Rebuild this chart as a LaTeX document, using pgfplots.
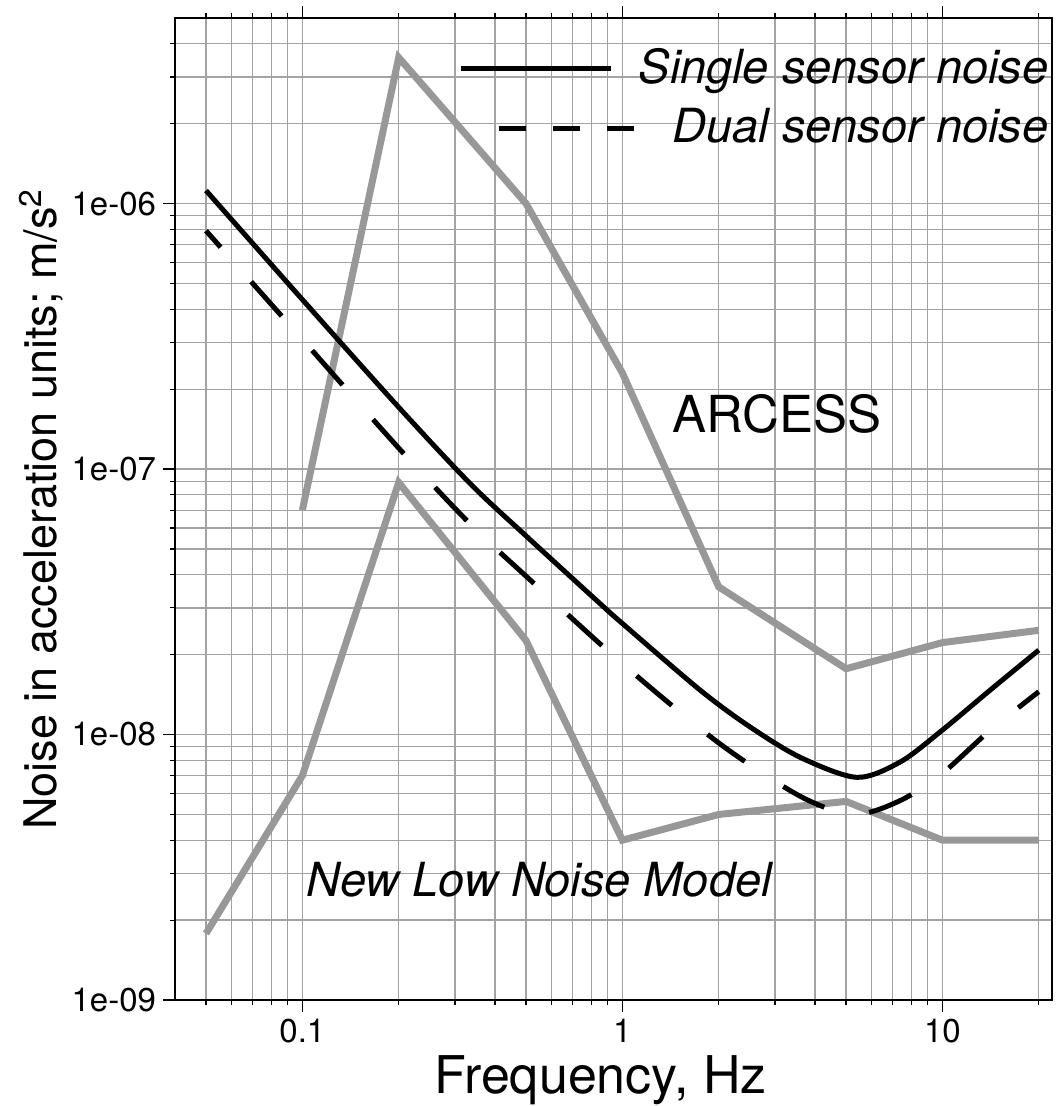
\documentclass[border=0pt]{standalone}
\usepackage{fontspec}
\setmainfont{TeX Gyre Heros}
\usepackage{pgfplots}
\usepackage{pgfplotstable}
\pgfplotsset{compat=1.18}

\definecolor{refgray}{RGB}{152,152,152}

% ARCESS station noise
\pgfplotstableread{
f     a
0.1   7.0e-8
0.2   3.55e-6
0.5   1.0e-6
1     2.3e-7
2     3.6e-8
5     1.77e-8
10    2.22e-8
20    2.47e-8
}\arcess

% Peterson New Low Noise Model
\pgfplotstableread{
f     a
0.05  1.78e-9
0.1   7.0e-9
0.2   8.9e-8
0.5   2.26e-8
1     4.0e-9
2     5.0e-9
5     5.6e-9
10    4.0e-9
20    4.0e-9
}\nlnm

\pgfplotstableread{
f      a
0.05   1.12e-6
0.1    4.35e-7
0.2    1.71e-7
0.335  8.8e-8
0.5    5.6e-8
0.85   3.12e-8
1      2.62e-8
1.75   1.47e-8
2.5    1.07e-8
3.6    8.2e-9
5.4    6.9e-9
7.4    7.9e-9
10     1.04e-8
14     1.46e-8
20     2.08e-8
}\single

\pgfplotstableread{
f      a
0.05   7.9e-7
0.1    3.08e-7
0.2    1.2e-7
0.335  6.2e-8
0.5    3.95e-8
1      1.85e-8
2      9.3e-9
3.6    5.85e-9
5.3    5.0e-9
7.4    5.65e-9
10     7.15e-9
14     1.03e-8
20     1.45e-8
}\dual

\begin{document}
\begin{tikzpicture}
\begin{axis}[
    name=ax,
    xmode=log, ymode=log,
    scale only axis, width=438.5pt, height=491pt,
    xmin=0.04, xmax=22, ymin=1e-9, ymax=5e-6,
    xtick={0.1,1,10}, xticklabels={0.1,1,10},
    ytick={1e-9,1e-8,1e-7,1e-6},
    yticklabels={1e-09,1e-08,1e-07,1e-06},
    minor xtick={0.05,0.06,0.07,0.08,0.09,0.2,0.3,0.4,0.5,0.6,0.7,0.8,0.9,2,3,4,5,6,7,8,9,20},
    minor ytick={2e-9,3e-9,4e-9,5e-9,6e-9,7e-9,8e-9,9e-9,
                 2e-8,3e-8,4e-8,5e-8,6e-8,7e-8,8e-8,9e-8,
                 2e-7,3e-7,4e-7,5e-7,6e-7,7e-7,8e-7,9e-7,
                 2e-6,3e-6,4e-6},
    grid=both,
    major grid style={black!36, line width=0.65pt},
    minor grid style={black!36, line width=0.65pt},
    tick align=outside,
    xtick pos=both, ytick pos=left,
    major tick length=6pt, minor tick length=2.5pt,
    every tick/.style={black, line width=0.6pt},
    axis line style={line width=1.3pt},
    tick label style={font=\fontsize{16.5}{18}\selectfont},
    xlabel={Frequency, Hz},
    ylabel={Noise in acceleration units; m/s\textsuperscript{2}},
    xlabel style={font=\fontsize{26}{30}\selectfont,
        at={(axis description cs:0.4852,-0.0947)}, anchor=base},
    ylabel style={font=\fontsize{22.5}{26}\selectfont,
        at={(axis description cs:-0.1346,0.5)}, anchor=base},
    legend style={at={(rel axis cs:1,1)}, anchor=north east,
        xshift=1.5pt, yshift=-13pt, draw=none, fill=none,
        font=\fontsize{23.5}{28}\selectfont\itshape,
        row sep=11pt, column sep=-0.5pt, nodes={inner sep=0pt}},
    legend cell align=right,
]
\addplot[refgray, line width=3.5pt, forget plot] table[x=f, y=a] {\arcess};
\addplot[refgray, line width=3.5pt, forget plot] table[x=f, y=a] {\nlnm};
\addplot[black, line width=2.5pt, smooth, forget plot] table[x=f, y=a] {\single};
\addplot[black, line width=2.5pt, smooth, dash pattern=on 23pt off 23pt, dash phase=12pt, forget plot] table[x=f, y=a] {\dual};

\addlegendimage{legend image code/.code={
    \draw[black, line width=2.5pt] (0pt,-0.5pt) -- (75pt,-0.5pt);}}
\addlegendentry{Single sensor noise}
\addlegendimage{legend image code/.code={
    \path[draw=none] (0pt,-0.5pt) -- (75pt,-0.5pt);
    \draw[black, line width=2.5pt, dash pattern=on 13.5pt off 13.5pt] (19pt,-0.5pt) -- (88pt,-0.5pt);}}
\addlegendentry{Dual sensor noise}

\node[font=\fontsize{25.5}{30}\selectfont] at (axis cs:3.05,1.62e-7) {ARCESS};
\node[font=\fontsize{23.5}{28}\selectfont\itshape] at (axis cs:0.55,2.83e-9) {New Low Noise Model};
\end{axis}
\pgfresetboundingbox
\path ([shift={(-87.5pt,-53pt)}]ax.south west) rectangle ([shift={(1.5pt,9pt)}]ax.north east);
\end{tikzpicture}
\end{document}
